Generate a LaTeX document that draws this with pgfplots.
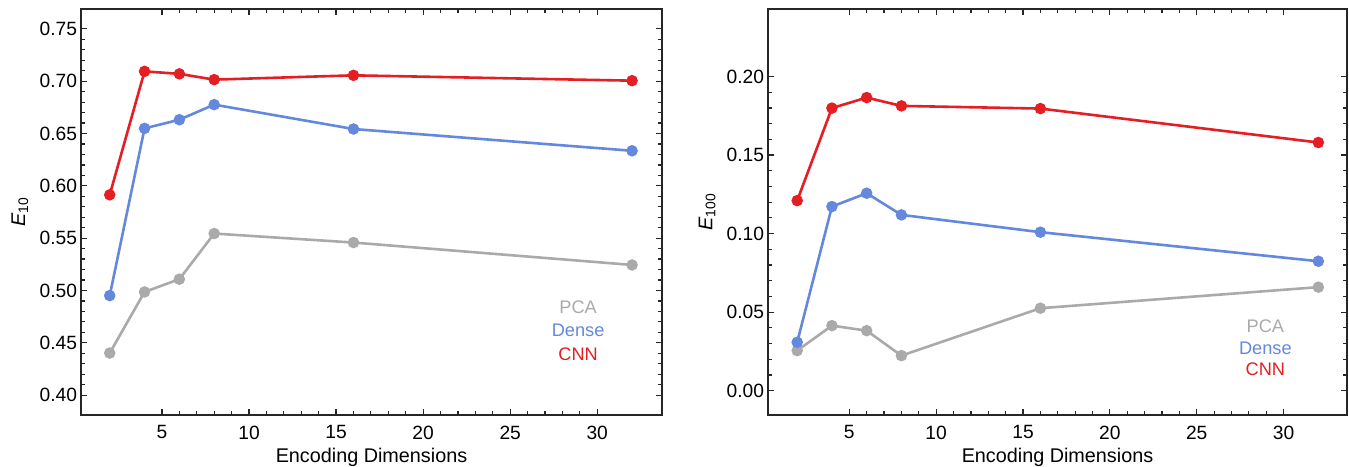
\documentclass[border=0pt]{standalone}
\usepackage{pgfplots}
\pgfplotsset{compat=1.18}
\usepackage{fontspec}
\setmainfont{Liberation Sans}

\definecolor{cnnred}{RGB}{228,30,34}
\definecolor{denseblue}{RGB}{100,136,222}
\definecolor{pcagray}{RGB}{170,170,170}

\tikzset{
  legtext/.style={font=\fontsize{9.1}{11}\selectfont, anchor=center, inner sep=0pt},
}

\pgfplotsset{
  panel/.style={
    scale only axis,
    anchor=south west,
    height=203pt,
    axis line style={line width=0.7pt, black!85},
    tick style={black!85, line width=0.6pt},
    tick align=inside,
    major tick length=3pt,
    minor tick length=1.8pt,
    minor x tick num=4,
    minor y tick num=4,
    xtick={5,10,...,30},
    tick label style={font=\fontsize{9.6}{11}\selectfont},
    /pgf/number format/assume math mode=true,
    yticklabel style={/pgf/number format/fixed, /pgf/number format/fixed zerofill,
                      /pgf/number format/precision=2, inner sep=1.8pt},
    xticklabel style={yshift=-1.8pt},
    xlabel={Encoding Dimensions},
    xlabel style={font=\fontsize{9.9}{11}\selectfont, at={(axis description cs:0.5,0)},
                  anchor=north, inner sep=0pt, yshift=-16.5pt},
    ylabel style={font=\fontsize{9.9}{11}\selectfont, at={(axis description cs:-0.105,0.5)},
                  anchor=center},
    every axis plot/.append style={line width=1.3pt, mark=*, mark size=2.2pt},
  },
}

\begin{document}
\begin{tikzpicture}
\path[use as bounding box] (0,0) rectangle (674.5pt,233pt);

% E_10 against the encoding dimension
\begin{axis}[panel, at={(40.5pt,25.5pt)}, width=290.5pt,
  xmin=0.35, xmax=33.72, ymin=0.381, ymax=0.769,
  ytick={0.40,0.45,...,0.76},
  ylabel={\textit{E}\textsubscript{10}}]
\addplot[pcagray, mark options={fill=pcagray, draw=pcagray}] coordinates {
  (2,0.4402) (4,0.4986) (6,0.5108) (8,0.5544) (16,0.5458) (32,0.5244)};
\addplot[denseblue, mark options={fill=denseblue, draw=denseblue}] coordinates {
  (2,0.4951) (4,0.6549) (6,0.6632) (8,0.6776) (16,0.6543) (32,0.6335)};
\addplot[cnnred, mark options={fill=cnnred, draw=cnnred}] coordinates {
  (2,0.5914) (4,0.7094) (6,0.7070) (8,0.7015) (16,0.7056) (32,0.7005)};
\node[legtext, text=pcagray]   at (axis cs:28.9,0.4843) {PCA};
\node[legtext, text=denseblue] at (axis cs:28.9,0.4623) {Dense};
\node[legtext, text=cnnred]    at (axis cs:28.9,0.4393) {CNN};
\end{axis}

% E_100 against the encoding dimension
\begin{axis}[panel, at={(384pt,25.5pt)}, width=289.5pt,
  xmin=0.32, xmax=33.65, ymin=-0.0155, ymax=0.243,
  ytick={0,0.05,...,0.21},
  ylabel={\textit{E}\textsubscript{100}}]
\addplot[pcagray, mark options={fill=pcagray, draw=pcagray}] coordinates {
  (2,0.0255) (4,0.0414) (6,0.0382) (8,0.0223) (16,0.0525) (32,0.0659)};
\addplot[denseblue, mark options={fill=denseblue, draw=denseblue}] coordinates {
  (2,0.0308) (4,0.1172) (6,0.1257) (8,0.1119) (16,0.1009) (32,0.0824)};
\addplot[cnnred, mark options={fill=cnnred, draw=cnnred}] coordinates {
  (2,0.1210) (4,0.1799) (6,0.1866) (8,0.1813) (16,0.1796) (32,0.1580)};
\node[legtext, text=pcagray]   at (axis cs:28.95,0.0413) {PCA};
\node[legtext, text=denseblue] at (axis cs:28.95,0.0271) {Dense};
\node[legtext, text=cnnred]    at (axis cs:28.95,0.0137) {CNN};
\end{axis}
\end{tikzpicture}
\end{document}
